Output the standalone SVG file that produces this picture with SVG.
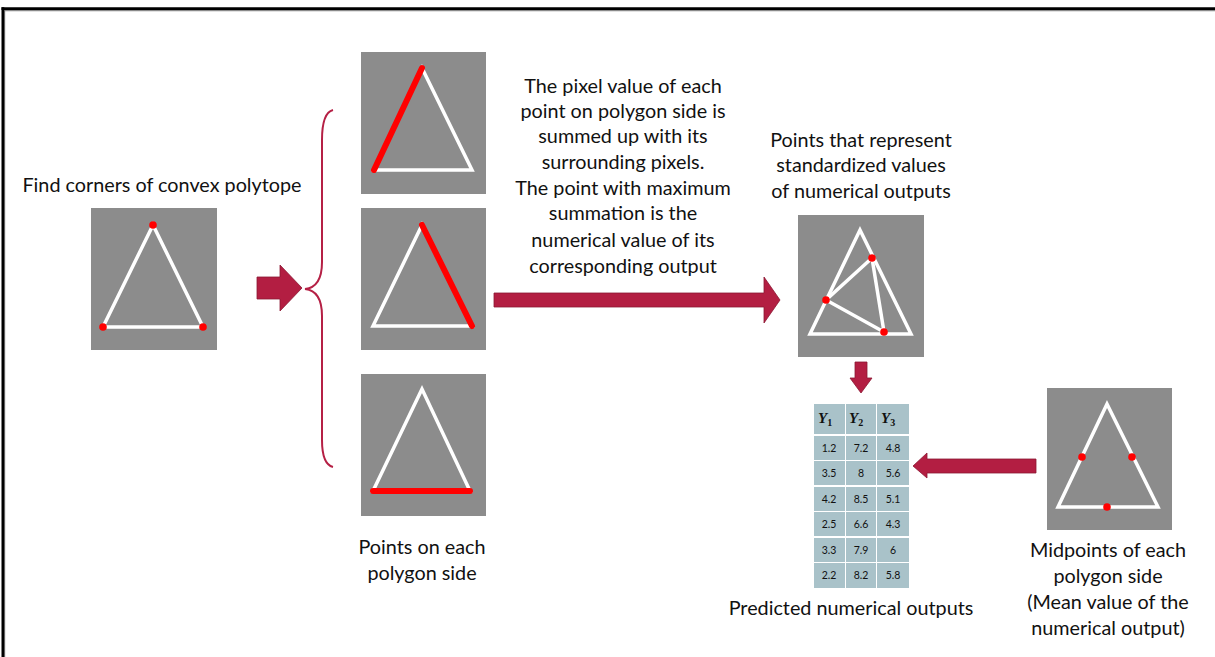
<svg xmlns="http://www.w3.org/2000/svg" width="1215" height="657" viewBox="0 0 1215 657">
  <style>
    .lbl { font-family: "Lato", "Liberation Sans", sans-serif; font-size: 19.8px; fill: #111; text-anchor: middle; }
    .box { fill: #8c8c8c; }
    .edge { fill: none; stroke: #ffffff; stroke-width: 3.5; stroke-linejoin: miter; }
    .hot { stroke: #ff0000; stroke-width: 6; stroke-linecap: round; fill: none; }
    .dot { fill: #ff0000; }
    .arrow { fill: #b31e42; stroke: #8c1632; stroke-width: 0.8; }
    .cell { fill: #a9c2c9; }
    .num { font-family: "Lato", "Liberation Sans", sans-serif; font-size: 10.5px; fill: #111; text-anchor: middle; }
    .hdr { font-family: "Liberation Serif", serif; font-size: 15px; font-weight: bold; font-style: italic; fill: #111; }
    .sub { font-size: 10px; font-style: normal; }
  </style>

  <rect width="1215" height="657" fill="#ffffff"/>
  <!-- frame -->
  <line x1="4.5" y1="10.6" x2="1215" y2="10.6" stroke="#8a8a8a" stroke-width="1.2"/>
  <line x1="4.6" y1="10" x2="4.6" y2="657" stroke="#8a8a8a" stroke-width="1.2"/>
  <line x1="1.5" y1="8.7" x2="1215" y2="8.7" stroke="#000" stroke-width="2.8"/>
  <line x1="2.9" y1="7.3" x2="2.9" y2="657" stroke="#000" stroke-width="2.8"/>

  <!-- corner detection -->
  <g id="corners">
    <text class="lbl" x="162" y="192">Find corners of convex polytope</text>
    <rect class="box" x="91" y="208" width="126" height="142"/>
    <polygon class="edge" points="153,225 103,327 203,327"/>
    <circle class="dot" cx="153" cy="225" r="3.8"/>
    <circle class="dot" cx="103" cy="327" r="3.8"/>
    <circle class="dot" cx="203" cy="327" r="3.8"/>
  </g>

  <!-- side images -->
  <g id="side-left">
    <rect class="box" x="361" y="52" width="125" height="142"/>
    <polygon class="edge" points="422,68 374,170 472,170"/>
    <line class="hot" x1="422" y1="68" x2="374" y2="170"/>
  </g>
  <g id="side-right">
    <rect class="box" x="361" y="208" width="125" height="142"/>
    <polygon class="edge" points="422,225 373,326 472,326"/>
    <line class="hot" x1="422" y1="225" x2="472" y2="326"/>
  </g>
  <g id="side-bottom">
    <rect class="box" x="361" y="374" width="125" height="142"/>
    <polygon class="edge" points="422,389 373,491 470,491"/>
    <line class="hot" x1="373" y1="491" x2="470" y2="491"/>
    <text class="lbl" x="422" y="554">Points on each</text>
    <text class="lbl" x="422" y="580">polygon side</text>
  </g>

  <!-- explanation -->
  <g id="explanation">
    <text class="lbl" x="623" y="93">The pixel value of each</text>
    <text class="lbl" x="623" y="118">point on polygon side is</text>
    <text class="lbl" x="623" y="143">summed up with its</text>
    <text class="lbl" x="623" y="169">surrounding pixels.</text>
    <text class="lbl" x="623" y="195">The point with maximum</text>
    <text class="lbl" x="623" y="220">summation is the</text>
    <text class="lbl" x="623" y="247">numerical value of its</text>
    <text class="lbl" x="623" y="273">corresponding output</text>
  </g>

  <!-- standardized points -->
  <g id="standardized">
    <text class="lbl" x="861" y="147">Points that represent</text>
    <text class="lbl" x="861" y="172">standardized values</text>
    <text class="lbl" x="861" y="198">of numerical outputs</text>
    <rect class="box" x="798" y="215" width="126" height="142"/>
    <polygon class="edge" points="860,230 810,334 911,334"/>
    <polyline class="edge" points="872,258 826,300 884,332 872,258"/>
    <circle class="dot" cx="872" cy="258" r="3.8"/>
    <circle class="dot" cx="826" cy="300" r="3.8"/>
    <circle class="dot" cx="884" cy="332" r="3.8"/>
  </g>

  <!-- midpoints -->
  <g id="midpoints">
    <rect class="box" x="1047" y="388" width="125" height="142"/>
    <polygon class="edge" points="1107,404 1058,507 1158,507"/>
    <circle class="dot" cx="1082" cy="457" r="3.8"/>
    <circle class="dot" cx="1132" cy="457" r="3.8"/>
    <circle class="dot" cx="1107" cy="507" r="3.8"/>
    <text class="lbl" x="1108" y="557">Midpoints of each</text>
    <text class="lbl" x="1108" y="583">polygon side</text>
    <text class="lbl" x="1108" y="609">(Mean value of the</text>
    <text class="lbl" x="1108" y="635">numerical output)</text>
  </g>

  <!-- output table -->
  <g id="table">
    <rect class="cell" x="814" y="404" width="31" height="30"/>
    <rect class="cell" x="846" y="404" width="30" height="30"/>
    <rect class="cell" x="877" y="404" width="32" height="30"/>
    <text class="hdr" x="818" y="423">Y<tspan class="sub" dy="3">1</tspan></text>
    <text class="hdr" x="849" y="423">Y<tspan class="sub" dy="3">2</tspan></text>
    <text class="hdr" x="881" y="423">Y<tspan class="sub" dy="3">3</tspan></text>

    <g id="rows">
      <rect class="cell" x="814" y="436" width="31" height="24"/><rect class="cell" x="846" y="436" width="30" height="24"/><rect class="cell" x="877" y="436" width="32" height="24"/>
      <rect class="cell" x="814" y="461" width="31" height="24"/><rect class="cell" x="846" y="461" width="30" height="24"/><rect class="cell" x="877" y="461" width="32" height="24"/>
      <rect class="cell" x="814" y="487" width="31" height="24"/><rect class="cell" x="846" y="487" width="30" height="24"/><rect class="cell" x="877" y="487" width="32" height="24"/>
      <rect class="cell" x="814" y="512" width="31" height="24"/><rect class="cell" x="846" y="512" width="30" height="24"/><rect class="cell" x="877" y="512" width="32" height="24"/>
      <rect class="cell" x="814" y="538" width="31" height="24"/><rect class="cell" x="846" y="538" width="30" height="24"/><rect class="cell" x="877" y="538" width="32" height="24"/>
      <rect class="cell" x="814" y="563" width="31" height="25"/><rect class="cell" x="846" y="563" width="30" height="25"/><rect class="cell" x="877" y="563" width="32" height="25"/>
    </g>
    <g id="values">
      <text class="num" x="829" y="452">1.2</text><text class="num" x="861" y="452">7.2</text><text class="num" x="893" y="452">4.8</text>
      <text class="num" x="829" y="477">3.5</text><text class="num" x="861" y="477">8</text><text class="num" x="893" y="477">5.6</text>
      <text class="num" x="829" y="503">4.2</text><text class="num" x="861" y="503">8.5</text><text class="num" x="893" y="503">5.1</text>
      <text class="num" x="829" y="528">2.5</text><text class="num" x="861" y="528">6.6</text><text class="num" x="893" y="528">4.3</text>
      <text class="num" x="829" y="554">3.3</text><text class="num" x="861" y="554">7.9</text><text class="num" x="893" y="554">6</text>
      <text class="num" x="829" y="579">2.2</text><text class="num" x="861" y="579">8.2</text><text class="num" x="893" y="579">5.8</text>
    </g>
    <text class="lbl" x="851" y="615">Predicted numerical outputs</text>
  </g>

  <!-- connectors -->
  <g id="connectors">
    <polygon class="arrow" points="257,277 280,277 280,265 302,288 280,311 280,299 257,299"/>
    <path d="M333,110 C325,112 322,124 322,140 L322,262 C322,280 315,288 305,289 C315,290 322,298 322,316 L322,440 C322,456 325,465 333,467" fill="none" stroke="#b52045" stroke-width="2"/>
    <polygon class="arrow" points="494,293 764,293 764,277 780,300 764,323 764,307 494,307"/>
    <polygon class="arrow" points="855,362 867,362 867,378 872,378 861,393 850,378 855,378"/>
    <polygon class="arrow" points="1036,459 927,459 927,453 913,466 927,478 927,473 1036,473"/>
  </g>
</svg>
